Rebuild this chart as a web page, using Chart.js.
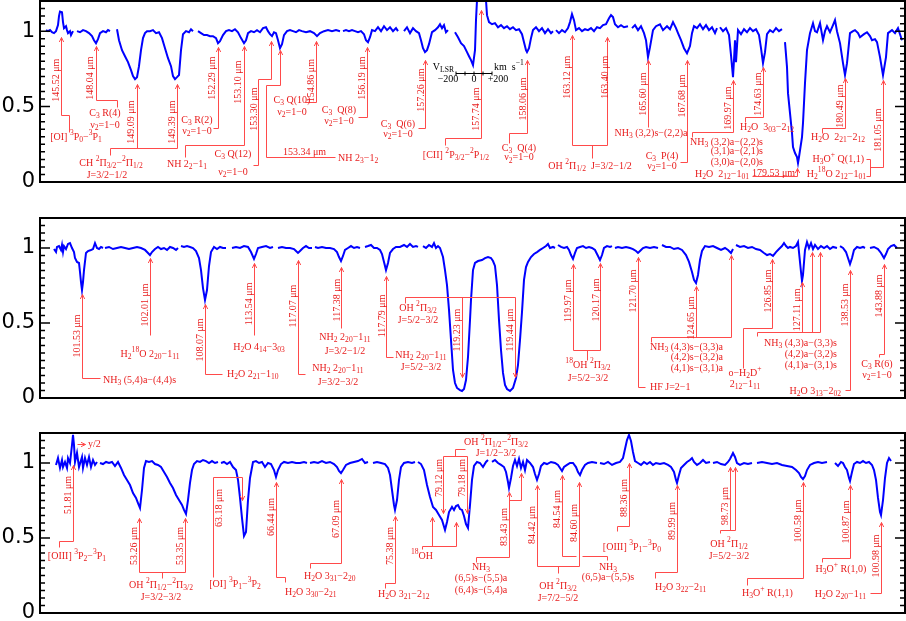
<!DOCTYPE html>
<html>
<head>
<meta charset="utf-8">
<script src="https://cdn.jsdelivr.net/npm/chart.js@4.4.0/dist/chart.umd.min.js"></script>
<style>
  html, body { margin: 0; padding: 0; background: #fff; }
  #wrap { position: relative; width: 906px; height: 621px; }
  #wrap canvas { position: absolute; left: 0; top: 0; }
</style>
</head>
<body>
<div id="wrap">
  <canvas id="p1" width="906" height="621"></canvas>
  <canvas id="p2" width="906" height="621"></canvas>
  <canvas id="p3" width="906" height="621"></canvas>
</div>
<script>
/* ------------------------------------------------------------
   Spectrum plates: three stitched segments, normalised flux
   x = position along the plate, y = continuum-normalised flux
   ------------------------------------------------------------ */

const yTicks = [0, 0.5, 1];

// ---- plate 1 : 145 - 181 um ----
const spec1 = [
  [[46,1.007],[48,1.0],[50,1.007],[52,.993],[54,.987],[56,1.0],[58,1.04],[59,1.10],[60,1.13],[62,1.126],[63,1.06],[64,1.02],[66,1.033],[67,1.007],[68,.987],[70,1.0],[71,.974],[73,1.0]],
  [[77,1.0],[80,.993],[83,1.007],[86,1.0],[89,.987],[92,.967],[94,.94],[96,.92],[98,.947],[100,.987],[103,1.0],[106,.993],[108,1.007],[110,1.0]],
  [[117,1.013],[119,.94],[122,.874],[125,.834],[128,.795],[131,.742],[133,.702],[135,.682],[137,.695],[139,.768],[141,.874],[143,.954],[145,.987],[147,1.0],[150,1.0],[153,1.007],[156,.987],[159,.993],[162,.954],[165,.887],[168,.821],[171,.768],[173,.702],[175,.682],[177,.695],[179,.709],[181,.874],[183,.98],[186,1.0],[189,.993],[191,1.013],[193,1.0]],
  [[198,1.0],[201,.987],[204,.974],[207,.974],[210,.967],[213,.967],[216,.954],[218,.92],[220,.934],[223,.974],[226,1.0],[229,1.007],[232,1.0],[235,1.013],[238,.993],[241,.954],[244,.92],[246,.94],[248,.987],[251,1.0],[254,.993],[257,1.007],[260,.993],[263,1.02],[266,1.026],[268,1.0],[270,.98],[272,.967],[274,.993],[276,.987],[278,.94],[280,.887],[282,.914],[284,.974],[287,1.0],[290,1.007],[293,1.0],[296,.993],[299,1.007],[302,1.0],[306,.993],[310,1.0],[314,.987],[317,.967],[320,.987],[324,1.0],[328,1.007],[332,1.0],[336,1.007],[340,1.0]],
  [[343,1.0],[346,1.007],[349,1.0],[352,1.007],[355,1.0],[358,.993],[361,1.0],[364,.98],[366,.94],[368,.927],[370,.96],[372,1.007],[375,1.0],[378,1.026],[381,1.0],[384,1.033],[387,1.007],[390,1.026],[393,1.0],[396,1.02],[398,1.0]],
  [[404,1.0],[407,1.026],[410,.987],[413,1.02],[416,1.0],[419,.987],[421,.94],[423,.887],[425,.861],[427,.874],[429,.914],[432,.993],[435,1.007],[438,1.026],[440,1.046],[442,1.02],[444,1.04],[446,.993],[448,1.007]],
  [[455,.993],[458,.96],[461,.92],[464,.901],[467,.861],[469,.834],[471,.808],[473,.775],[475,.874],[476,1.073],[477,1.205],[479,1.34],[485,1.34],[486,1.205],[487,1.106],[489,1.06],[492,1.046],[495,1.053],[498,1.026],[501,1.04],[504,1.02],[507,1.033],[510,1.013],[513,1.026],[516,1.007],[519,1.013],[522,.98],[524,.927],[526,.874],[527,.861],[529,.887],[531,.954],[533,1.007],[536,1.026],[539,1.0],[542,1.02],[545,.987],[548,1.013],[551,.987],[553,1.0]],
  [[556,1.007],[559,.987],[562,1.007],[565,.993],[568,1.02],[570,1.06],[572,1.113],[574,1.073],[576,1.007],[579,1.02],[582,1.0],[585,1.013],[588,1.007],[591,1.02],[594,1.0],[597,1.026],[600,1.02],[603,1.04],[606,1.046],[609,1.086],[611,1.106],[613,1.093],[615,1.046],[618,1.026],[621,1.04],[624,1.026],[628,1.033]],
  [[632,1.02],[635,1.04],[638,1.007],[641,1.033],[644,.987],[646,.94],[648,.828],[650,.894],[653,1.007],[656,1.033],[660,1.046],[663,1.007],[667,1.033],[670,1.013],[673,1.06],[676,1.02],[678,.987],[681,.94],[684,.887],[687,.854],[690,.901],[692,.987],[694,1.033],[697,1.02],[700,1.046],[703,1.013],[706,1.04],[709,1.007],[712,1.026],[715,.987],[717,1.02]],
  [[720,1.026],[723,1.0],[726,1.02],[729,.974],[731,.841],[733,.695],[734,.808],[735,.94],[736,.795],[738,1.007],[741,.98],[744,1.013],[747,.993],[750,1.02],[753,1.0],[756,1.013],[759,.974],[761,.887],[763,.788],[765,.861],[767,.98],[770,1.007],[773,.993],[776,1.02],[779,1.0],[782,1.013]],
  [[785,.927],[787,.762],[788,.589],[790,.457],[792,.325],[793,.232],[795,.192],[797,.166],[798,.126],[799,.166],[802,.298],[803,.391],[805,.656],[807,.874],[810,.987],[813,1.053],[815,1.0],[817,.993],[820,1.053],[823,.94],[825,1.0],[827,1.033],[830,.993],[833,1.04],[835,1.073],[837,1.0],[840,.921],[843,.788],[845,.709],[847,.788],[850,.987],[853,1.0],[855,1.007],[858,.987],[860,.96],[864,.98],[867,.993],[870,.967],[872,.940],[875,.947],[877,.927],[880,.828],[883,.709],[886,.828],[888,.987],[892,1.007],[895,.987],[898,1.02],[902,.94]]
];
const waves1 = [145.52, 148.04, 149.09, 149.39, 152.29, 153.10, 153.30, 153.34, 154.86, 156.19, 157.26, 157.74, 158.06, 163.12, 163.40, 165.60, 167.68, 169.97, 174.63, 179.53, 180.49, 181.05];

// ---- plate 2 : 101 - 144 um ----
const spec2 = [
  [[54,.993],[56,.973],[57,1.007],[59,1.013],[61,.987],[62,1.02],[63,.973],[64,1.013],[66,.993],[68,1.027],[70,1.033],[72,1.0],[74,.973],[75,.933],[77,.907],[79,.9],[80,.84],[81,.773],[82,.72],[83,.773],[84,.853],[86,.967],[88,.98],[91,.987],[93,.993],[95,1.033],[97,1.0],[99,.993],[101,1.007],[103,1.0]],
  [[105,1.0],[109,1.007],[113,.993],[117,1.0],[121,1.007],[125,1.0],[129,.993],[133,1.0],[137,1.007],[141,1.0],[145,.987],[148,.967],[150,.953],[152,.973],[155,.993],[158,1.007],[161,.993],[164,1.0],[167,.987],[170,1.007],[173,1.0],[176,.987],[178,1.0]],
  [[181,1.013],[184,1.007],[187,1.013],[190,1.007],[193,1.0],[196,.98],[199,.933],[201,.853],[203,.733],[205,.653],[207,.72],[209,.88],[211,.973],[214,1.007],[217,.993],[220,1.007],[223,1.0],[226,1.0]],
  [[232,1.0],[236,1.007],[240,1.0],[244,1.013],[248,1.007],[251,.973],[254,.927],[256,.96],[258,1.0],[262,1.007],[266,1.013],[270,1.0],[273,1.007]],
  [[278,1.0],[282,1.007],[286,1.0],[290,1.0],[294,.993],[296,.98],[298,.967],[300,.98],[303,1.0],[306,1.013],[309,1.0],[312,1.0]],
  [[315,1.007],[318,1.0],[322,1.007],[326,1.0],[330,1.0],[334,.993],[337,.973],[339,.94],[341,.913],[343,.947],[345,.987],[348,1.0],[351,1.013],[354,1.0],[357,1.007],[360,1.0]],
  [[365,1.007],[368,1.013],[371,1.02],[374,1.0],[377,1.0],[380,.987],[382,.96],[384,.907],[386,.853],[388,.9],[390,.967],[393,.993],[396,1.007],[400,1.007],[404,1.02],[407,1.007],[410,1.027],[413,1.007],[416,1.013],[418,1.007]],
  [[423,1.013],[426,1.0],[429,1.02],[432,1.007],[434,1.033],[436,1.0],[438,1.013],[440,1.0],[443,.94],[445,.853],[447,.753],[449,.587],[451,.387],[453,.187],[455,.1],[457,.067],[460,.053],[462,.047],[464,.06],[466,.12],[468,.273],[470,.52],[471,.653],[473,.853],[475,.9],[478,.913],[482,.92],[485,.933],[488,.94],[491,.933],[493,.913],[495,.88],[497,.753],[499,.52],[501,.32],[503,.167],[505,.087],[507,.06],[510,.047],[513,.067],[516,.133],[518,.22],[520,.387],[522,.573],[524,.787],[526,.873],[528,.907],[531,.94],[534,.96],[537,.973],[540,.987],[543,1.0],[546,1.013],[548,1.027],[550,1.0],[553,1.007],[555,1.0]],
  [[558,1.02],[561,1.007],[564,1.0],[567,1.007],[569,.987],[571,.953],[573,.927],[575,.967],[577,1.0],[580,1.007],[583,1.013],[586,1.0],[589,1.007],[592,1.0],[595,.987],[597,.96],[600,.92],[602,.953],[604,1.0],[607,1.013],[610,1.007],[612,1.013]],
  [[615,1.0],[618,1.007],[622,1.0],[626,1.007],[630,1.0],[633,.993],[636,.98],[638,.967],[640,.98],[643,1.0],[646,1.007],[650,1.0],[654,1.007],[658,1.0]],
  [[662,1.02],[666,1.007],[670,1.007],[674,.993],[678,1.0],[682,.987],[686,.953],[689,.907],[692,.84],[694,.787],[696,.767],[698,.82],[700,.92],[702,.98],[705,1.013],[709,1.007],[713,1.013],[717,1.0],[721,.987],[725,1.0],[728,.987],[731,.967],[733,.993]],
  [[736,1.02],[740,1.007],[744,1.013],[748,1.0],[752,1.007],[756,.993],[760,.987],[764,.967],[767,.953],[770,.96],[773,.947],[776,.973],[779,.993],[782,1.013],[784,1.033],[786,1.013],[788,1.0],[790,1.007],[793,1.0],[796,1.013],[798,1.04],[799,.973],[801,.84],[802,.78],[803,.82],[805,.987],[807,1.04],[809,1.0],[811,1.033],[813,.993],[815,1.02],[818,.993],[821,1.013],[824,1.0],[827,1.013],[830,.993],[833,1.007],[837,1.0]],
  [[840,1.013],[843,1.0],[846,.973],[848,.933],[850,.893],[852,.933],[854,.987],[857,1.007],[860,1.0],[863,1.007],[865,1.0]],
  [[870,1.0],[874,1.007],[878,.993],[881,.967],[884,.933],[886,.96],[888,.993],[891,1.013],[894,1.02],[897,1.0]]
];
const waves2 = [101.53, 102.01, 108.07, 113.54, 117.07, 117.38, 117.79, 119.23, 119.44, 119.97, 120.17, 121.70, 124.65, 126.85, 127.11, 138.53, 143.88];

// ---- plate 3 : 51 - 101 um ----
const spec3 = [
  [[56,.987],[58,1.033],[60,.967],[62,1.02],[63,.973],[65,1.007],[67,.967],[68,1.033],[70,1.0],[72,1.12],[73,1.187],[74,1.12],[75,1.007],[77,1.067],[79,.973],[82,1.04],[83,.967],[85,1.033],[87,.987],[89,1.04],[91,.973],[93,1.02],[95,.987],[97,1.007]],
  [[100,1.0],[103,.993],[106,1.007],[109,1.0],[112,1.007],[115,.98],[118,1.007],[121,.967],[124,.92],[127,.887],[130,.853],[133,.8],[136,.767],[138,.733],[140,.7],[142,.82],[144,.967],[146,1.013],[149,1.007],[152,1.013],[155,.993],[158,.987],[161,.973],[164,.94],[167,.907],[170,.867],[173,.833],[176,.787],[179,.753],[182,.72],[184,.687],[186,.66],[188,.753],[190,.867],[192,.953],[194,.993],[197,1.013],[200,1.007],[203,1.02],[206,1.013],[209,1.0],[212,1.013],[215,1.0],[218,1.007]],
  [[221,1.0],[224,1.007],[227,.993],[230,1.007],[233,.973],[236,.953],[238,.887],[240,.767],[242,.633],[244,.513],[246,.54],[248,.753],[250,.9],[253,1.007],[256,1.013],[259,1.0],[262,1.007],[265,.973],[268,1.0],[271,.993],[274,.953],[276,.907],[278,.953],[281,.993],[284,1.007],[288,1.0],[292,1.007],[296,1.0],[300,1.0],[304,1.007],[307,1.0]],
  [[310,1.0],[314,1.007],[318,1.0],[322,1.013],[326,1.0],[330,1.007],[334,.993],[337,.973],[339,.947],[341,.933],[343,.953],[346,.987],[350,1.0],[354,1.007],[358,1.013],[362,1.027],[365,1.0],[368,1.007]],
  [[373,1.0],[377,1.007],[381,1.0],[385,.993],[388,.967],[390,.92],[392,.82],[394,.72],[395,.687],[397,.753],[399,.887],[401,.973],[404,1.0],[408,1.007],[412,1.0],[415,1.007]],
  [[418,1.007],[421,.993],[424,.953],[427,.853],[430,.773],[433,.707],[436,.687],[439,.653],[442,.62],[445,.553],[447,.607],[449,.673],[452,.707],[454,.687],[456,.713],[458,.72],[460,.693],[462,.687],[464,.647],[466,.593],[468,.567],[470,.72],[472,.887],[474,.98],[477,1.007],[480,1.0],[483,.973],[486,1.007],[488,1.02]],
  [[492,1.007],[495,1.02],[498,1.0],[501,.987],[504,.973],[506,.94],[508,.873],[509,.833],[511,.9],[513,.98],[515,1.02],[517,.98],[519,1.027],[521,.967],[523,1.007],[525,.953],[527,1.02],[530,1.0],[533,.973],[535,.927],[537,.887],[539,.927],[541,.98],[544,1.0],[547,.993],[551,1.007],[555,1.0],[558,.987],[560,.967],[562,.947],[564,.973],[567,.987],[570,1.0],[573,1.0],[576,.973],[578,.94],[580,.92],[582,.953],[585,.987],[588,1.0],[592,1.007],[597,1.0]],
  [[600,1.0],[604,.993],[608,1.007],[612,.987],[616,1.0],[620,1.007],[623,1.033],[625,1.093],[627,1.153],[629,1.187],[631,1.147],[633,1.073],[635,1.013],[638,1.0],[641,.987],[644,1.007],[647,.993],[650,1.007],[653,.987],[656,1.0],[660,.993],[664,1.0],[668,.987],[671,.973],[674,.94],[676,.887],[677,.867],[679,.92],[681,.967],[684,.987],[687,1.007],[690,1.02],[692,1.033],[694,1.007],[697,.987],[700,1.0],[703,1.02],[706,1.0],[710,1.007]],
  [[713,1.0],[717,1.007],[721,.993],[725,.987],[728,1.007],[730,1.027],[732,1.053],[733,1.067],[735,1.04],[737,1.0],[740,.987],[744,1.0],[748,.993],[752,1.0]],
  [[757,1.0],[762,1.007],[767,1.0],[772,.993],[777,1.0],[782,.987],[787,.98],[792,.973],[796,.953],[799,.933],[801,.907],[803,.893],[805,.913],[807,.953],[810,.987],[814,1.0],[818,1.007],[822,1.0],[827,1.007]],
  [[835,1.0],[838,.98],[841,1.007],[843,1.0],[845,.973],[847,.953],[849,.9],[850,.88],[852,.94],[854,.993],[857,1.007],[860,1.0],[863,1.013],[866,1.0],[869,1.007],[872,.987],[874,.953],[876,.887],[878,.767],[880,.673],[881,.653],[883,.753],[885,.9],[887,1.0],[889,1.033],[891,1.013]]
];
const waves3 = [51.81, 53.26, 53.35, 63.18, 66.44, 67.09, 75.38, 79.12, 79.18, 83.43, 84.42, 84.54, 84.60, 88.36, 89.99, 98.73, 100.58, 100.87, 100.98];

// velocity scale bar in plate 1 (km/s)
const vlsrTicks = [-200, -100, 0, 100, 200];
const vlsrLabels = ['\u2212200', '0', '+200'];

/* ------------------------------------------------------------
   Callout layout (plate units: x position, flux level)
   ------------------------------------------------------------ */

// wavelength tag placement: [x, y, vertical?]
const tagAt1 = [[56,.675,1],[90,.689,1],[131,.397,1],[172,.397,1],[212,.689,1],[238,.662,1],[254,.483,1],[283,.199,0],[311,.672,1],[362,.689,1],[421,.609,1],[476,.483,1],[523,.55,1],[567,.695,1],[605,.695,1],[643,.583,1],[682,.57,1],[728,.49,1],[758,.583,1],[752,.06,0],[840,.503,1],[878,.344,1]];
const tagAt2 = [[77,.413,1],[145,.62,1],[200,.387,1],[249,.627,1],[293,.613,1],[337,.653,1],[382,.547,1],[457,.453,1],[510,.453,1],[568,.647,1],[596,.653,1],[633,.713,1],[691,.533,1],[768,.713,1],[797,.587,1],[845,.62,1],[879,.68,1]];
const tagAt3 = [[68,.787,1],[134,.447,1],[180,.447,1],[219,.7,1],[271,.64,1],[336,.627,1],[390,.447,1],[439,.9,1],[462,.9,1],[504,.573,1],[532,.587,1],[557,.693,1],[574,.6,1],[624,.767,1],[672,.613,1],[725,.713,1],[798,.613,1],[846,.607,1],[876,.38,1]];

// leader lines, arrow head on the first point
const arrows1 = [
  [[61,.96],[61,.444],[69,.444],[69,.331]],
  [[96,.901],[96,.543],[117,.543],[117,.497]],
  [[137,.649],[137,.225]],
  [[177,.649],[177,.225]],
  [[218,.894],[218,.358],[213,.358]],
  [[244,.901],[244,.245],[185,.245],[185,.166]],
  [[271,.934],[271,.682],[258,.682],[258,.113],[253,.113]],
  [[280,.874],[280,.642],[266,.642],[266,.166],[335,.166]],
  [[316,.934],[316,.53],[305,.53]],
  [[367,.894],[367,.43],[358,.43]],
  [[425,.808],[425,.358],[418,.358]],
  [[481,1.139],[481,.291],[445,.291],[445,.245]],
  [[527,.808],[527,.325],[509,.325],[509,.258]],
  [[572,.974],[572,.245]],
  [[607,.96],[607,.245]],
  [[648,.808],[648,.364]],
  [[687,.808],[687,.132],[680,.132]],
  [[733,.675],[733,.331],[692,.331],[692,.298]],
  [[763,.762],[763,.43],[745,.43],[745,.397]],
  [[797,.093],[797,.04],[752,.04]],
  [[845,.689],[845,.358],[822,.358],[822,.325]],
  [[883,.675],[883,.099],[870,.099]]
];
const links1 = [
  [[110,.18],[110,.225],[177,.225]],
  [[572,.245],[607,.245]],
  [[592,.245],[592,.159]],
  [[866,.152],[870,.152],[870,.04],[866,.04]]
];
const notes1 = [
  [76,.298,'c','[OI] ^{3}P_{0}\u2212^{3}P_{1}'],
  [105,.457,'c','C_{3} R(4)'], [105,.377,'c','\u03bd_{2}=1\u22120'],
  [111,.126,'c','CH ^{2}\u03a0_{3/2}\u2212^{2}\u03a0_{1/2}'], [107,.046,'c','J=3/2\u22121/2'],
  [197,.411,'c','C_{3} R(2)'], [197,.338,'c','\u03bd_{2}=1\u22120'],
  [187,.119,'c','NH 2_{2}\u22121_{1}'],
  [233,.185,'c','C_{3} Q(12)'], [233,.066,'c','\u03bd_{2}=1\u22120'],
  [338,.159,'l','NH 2_{3}\u22121_{2}'],
  [292,.543,'c','C_{3} Q(10)'], [292,.464,'c','\u03bd_{2}=1\u22120'],
  [339,.477,'c','C_{3}  Q(8)'], [339,.404,'c','\u03bd_{2}=1\u22120'],
  [398,.384,'c','C_{3}  Q(6)'], [398,.318,'c','\u03bd_{2}=1\u22120'],
  [456,.179,'c','[CII] ^{2}P_{3/2}\u2212^{2}P_{1/2}'],
  [519,.225,'c','C_{3}  Q(4)'], [519,.162,'c','\u03bd_{2}=1\u22120'],
  [590,.106,'c','OH ^{2}\u03a0_{1/2}  J=3/2\u22121/2'],
  [651,.325,'c','NH_{3} (3,2)s\u2212(2,2)a'],
  [662,.172,'c','C_{3}  P(4)'], [662,.106,'c','\u03bd_{2}=1\u22120'],
  [763,.265,'r','NH_{3} (3,2)a\u2212(2,2)s'], [763,.205,'r','(3,1)a\u2212(2,1)s'], [763,.132,'r','(3,0)a\u2212(2,0)s'],
  [740,.364,'l','H_{2}O  3_{03}\u22122_{12}'],
  [722,.053,'c','H_{2}O  2_{12}\u22121_{01}'],
  [838,.298,'c','H_{2}O  2_{21}\u22122_{12}'],
  [864,.152,'r','H_{3}O^{+} Q(1,1)'],
  [866,.053,'r','H_{2}^{18}O 2_{12}\u22121_{01}']
];

const arrows2 = [
  [[82,.693],[82,.133],[100,.133]],
  [[150,.933],[150,.42]],
  [[205,.627],[205,.16],[222,.16]],
  [[254,.9],[254,.42]],
  [[298,.92],[298,.16],[305,.16]],
  [[341,.873],[341,.467]],
  [[386,.813],[386,.273],[393,.273]],
  [[462,.14],[462,.673]],
  [[515,.14],[515,.673]],
  [[573,.893],[573,.32]],
  [[600,.9],[600,.32]],
  [[638,.94],[638,.073],[645,.073]],
  [[696,.747],[696,.407]],
  [[731,.953],[731,.407]],
  [[772,.927],[772,.467],[743,.467],[743,.2]],
  [[802,.773],[802,.44]],
  [[812,.973],[812,.44]],
  [[820,.973],[820,.44]],
  [[850,.853],[850,.053],[845,.053]],
  [[884,.893],[884,.293],[879,.293],[879,.273]]
];
const links2 = [
  [[405,.633],[405,.673],[515,.673]],
  [[573,.32],[600,.32]],
  [[587,.32],[587,.253]],
  [[651,.373],[651,.407],[731,.407]],
  [[757,.413],[757,.44],[820,.44]]
];
const notes2 = [
  [103,.12,'l','NH_{3} (5,4)a\u2212(4,4)s'],
  [150,.293,'c','H_{2}^{18}O 2_{20}\u22121_{11}'],
  [227,.16,'l','H_{2}O 2_{21}\u22121_{10}'],
  [259,.34,'c','H_{2}O 4_{14}\u22123_{03}'],
  [338,.2,'c','NH_{2} 2_{20}\u22121_{11}'], [338,.107,'c','J=3/2\u22123/2'],
  [345,.407,'c','NH_{2} 2_{20}\u22121_{11}'], [345,.313,'c','J=3/2\u22121/2'],
  [421,.287,'c','NH_{2} 2_{20}\u22121_{11}'], [421,.207,'c','J=5/2\u22123/2'],
  [418,.6,'c','OH ^{2}\u03a0_{3/2}'], [418,.52,'c','J=5/2\u22123/2'],
  [588,.22,'c','^{18}OH ^{2}\u03a0_{3/2}'], [588,.133,'c','J=5/2\u22123/2'],
  [650,.073,'l','HF J=2\u22121'],
  [723,.34,'r','NH_{3} (4,3)s\u2212(3,3)a'], [723,.273,'r','(4,2)s\u2212(3,2)a'], [723,.2,'r','(4,1)s\u2212(3,1)a'],
  [745,.167,'c','o\u2212H_{2}D^{+}'], [745,.093,'c','2_{12}\u22121_{11}'],
  [837,.367,'r','NH_{3} (4,3)a\u2212(3,3)s'], [837,.293,'r','(4,2)a\u2212(3,2)s'], [837,.22,'r','(4,1)a\u2212(3,1)s'],
  [841,.047,'r','H_{2}O 3_{13}\u22122_{02}'],
  [877,.227,'c','C_{3} R(6)'], [877,.153,'c','\u03bd_{2}=1\u22120']
];

const arrows3 = [
  [[73,.987],[73,.48],[59,.48],[59,.44]],
  [[85,1.127],[77,1.127]],
  [[139,.633],[139,.273]],
  [[185,.633],[185,.273]],
  [[242,.753],[242,.907],[213,.907],[213,.24]],
  [[276,.873],[276,.24],[285,.24],[285,.207]],
  [[341,.893],[341,.333],[310,.333],[310,.3]],
  [[395,.647],[395,.2],[385,.2],[385,.167]],
  [[432,.64],[432,.447]],
  [[456,.607],[456,.447]],
  [[443,.667],[443,1.047]],
  [[467,.667],[467,1.047]],
  [[509,.807],[509,.373],[476,.373],[476,.34]],
  [[521,.933],[521,.753],[509,.753]],
  [[537,.853],[537,.313]],
  [[562,.92],[562,.38],[576,.38]],
  [[579,.873],[579,.313]],
  [[629,1.0],[629,.58],[617,.58],[617,.547]],
  [[677,.853],[677,.273],[655,.273],[655,.233]],
  [[730,.973],[730,.553]],
  [[735,.973],[735,.553]],
  [[803,.873],[803,.233],[747,.233],[747,.187]],
  [[850,.853],[850,.367],[822,.367],[822,.34]],
  [[881,.607],[881,.133],[870,.133]]
];
const links3 = [
  [[139,.273],[185,.273]],
  [[162,.273],[162,.233]],
  [[422,.427],[422,.447],[456,.447]],
  [[443,1.047],[467,1.047]],
  [[455,1.047],[455,1.093],[465,1.093]],
  [[537,.313],[579,.313]],
  [[558,.313],[558,.267]],
  [[582,.38],[607,.38],[607,.353]],
  [[720,.533],[720,.553],[735,.553]]
];
const notes3 = [
  [77,.38,'c','[OIII] ^{3}P_{2}\u2212^{3}P_{1}'],
  [88,1.127,'l','y/2'],
  [161,.187,'c','OH ^{2}\u03a0_{1/2}\u2212^{2}\u03a0_{3/2}'], [161,.107,'c','J=3/2\u22123/2'],
  [235,.193,'c','[OI] ^{3}P_{1}\u2212^{3}P_{2}'],
  [285,.14,'l','H_{2}O 3_{30}\u22122_{21}'],
  [304,.247,'l','H_{2}O 3_{31}\u22122_{20}'],
  [378,.127,'l','H_{2}O 3_{21}\u22122_{12}'],
  [422,.38,'c','^{18}OH'],
  [496,1.14,'c','OH ^{2}\u03a0_{1/2}\u2212^{2}\u03a0_{3/2}'], [496,1.067,'c','J=1/2\u22123/2'],
  [481,.307,'c','NH_{3}'], [481,.233,'c','(6,5)s\u2212(5,5)a'], [481,.153,'c','(6,4)s\u2212(5,4)a'],
  [558,.18,'c','OH ^{2}\u03a0_{3/2}'], [558,.1,'c','J=7/2\u22125/2'],
  [608,.307,'c','NH_{3}'], [608,.24,'c','(6,5)a\u2212(5,5)s'],
  [632,.44,'c','[OIII] ^{3}P_{1}\u2212^{3}P_{0}'],
  [655,.173,'l','H_{2}O 3_{22}\u22122_{11}'],
  [729,.46,'c','OH ^{2}\u03a0_{1/2}'], [729,.38,'c','J=5/2\u22123/2'],
  [742,.133,'l','H_{3}O^{+} R(1,1)'],
  [841,.293,'c','H_{3}O^{+} R(1,0)'],
  [866,.127,'r','H_{2}O 2_{20}\u22121_{11}']
];

/* ------------------------------------------------------------ */

const SERIF = '"Liberation Serif", "DejaVu Serif", serif';
const LINE_RED = '#ff4a4a';
const TEXT_RED = '#e81c1c';

// split "H_{2}O^{+}" style markup into [text, level] parts
function richParts(s) {
  const out = [];
  let buf = '', i = 0;
  while (i < s.length) {
    const c = s[i];
    if (c === '_' || c === '^') {
      if (buf) { out.push([buf, 0]); buf = ''; }
      let t;
      if (s[i + 1] === '{') {
        const j = s.indexOf('}', i + 2);
        t = s.slice(i + 2, j);
        i = j + 1;
      } else {
        t = s[i + 1];
        i += 2;
      }
      out.push([t, c === '_' ? 1 : 2]);
    } else {
      buf += c;
      i++;
    }
  }
  if (buf) out.push([buf, 0]);
  return out;
}

function drawRich(ctx, s, x, y, align, size) {
  const parts = richParts(s);
  const sizes = [size, size * 0.76, size * 0.76];
  let w = 0;
  parts.forEach(p => {
    ctx.font = sizes[p[1]] + 'px ' + SERIF;
    p.w = ctx.measureText(p[0]).width;
    w += p.w;
  });
  let cx = align === 'c' ? x - w / 2 : align === 'r' ? x - w : x;
  ctx.textAlign = 'left';
  ctx.textBaseline = 'middle';
  parts.forEach(p => {
    ctx.font = sizes[p[1]] + 'px ' + SERIF;
    const dy = p[1] === 1 ? size * 0.32 : p[1] === 2 ? -size * 0.38 : 0;
    ctx.fillText(p[0], cx, y + dy);
    cx += p.w;
  });
}

function strokePath(ctx, pts) {
  ctx.beginPath();
  pts.forEach((p, i) => i === 0 ? ctx.moveTo(p[0], p[1]) : ctx.lineTo(p[0], p[1]));
  ctx.stroke();
}

function arrowHead(ctx, tip, from) {
  const a = Math.atan2(tip[1] - from[1], tip[0] - from[0]);
  const L = 5, s = 0.45;
  ctx.beginPath();
  ctx.moveTo(tip[0] - L * Math.cos(a - s), tip[1] - L * Math.sin(a - s));
  ctx.lineTo(tip[0], tip[1]);
  ctx.lineTo(tip[0] - L * Math.cos(a + s), tip[1] - L * Math.sin(a + s));
  ctx.stroke();
}

const calloutPlugin = {
  id: 'callouts',
  afterDraw(chart, args, o) {
    const ctx = chart.ctx;
    const a = chart.chartArea;
    const xs = chart.scales.x, ys = chart.scales.y;
    const px = v => Math.round(xs.getPixelForValue(v)) + 0.5;
    const py = v => Math.round(ys.getPixelForValue(v)) + 0.5;
    const toPx = pts => pts.map(p => [px(p[0]), py(p[1])]);

    ctx.save();

    // frame
    ctx.strokeStyle = '#000';
    ctx.lineWidth = 2;
    ctx.strokeRect(a.left, a.top, a.right - a.left, a.bottom - a.top);

    // inward minor / major ticks, both sides
    ctx.lineWidth = 1.5;
    for (let k = 1; k < 24; k++) {
      const y = ys.getPixelForValue(k * 0.05);
      const len = k % 10 === 0 ? 10 : 5;
      ctx.beginPath();
      ctx.moveTo(a.left, y); ctx.lineTo(a.left + len, y);
      ctx.moveTo(a.right, y); ctx.lineTo(a.right - len, y);
      ctx.stroke();
    }

    // leader lines
    ctx.strokeStyle = LINE_RED;
    ctx.lineWidth = 1;
    o.arrows.forEach(path => {
      const pts = toPx(path);
      strokePath(ctx, pts);
      arrowHead(ctx, pts[0], pts[1]);
    });
    o.links.forEach(path => strokePath(ctx, toPx(path)));

    // wavelength tags
    ctx.fillStyle = TEXT_RED;
    o.waves.forEach((w, i) => {
      const [x, v, vert] = o.tagAt[i];
      const t = w.toFixed(2) + ' \u03bcm';
      if (vert) {
        ctx.save();
        ctx.translate(xs.getPixelForValue(x), ys.getPixelForValue(v));
        ctx.rotate(-Math.PI / 2);
        drawRich(ctx, t, 0, 0, 'c', 10);
        ctx.restore();
      } else {
        drawRich(ctx, t, xs.getPixelForValue(x), ys.getPixelForValue(v), 'l', 10);
      }
    });

    // species labels
    o.notes.forEach(n => drawRich(ctx, n[3], xs.getPixelForValue(n[0]), ys.getPixelForValue(n[1]), n[2], 10));

    if (o.extra) o.extra(ctx, xs, ys);
    ctx.restore();
  }
};

// velocity scale inset of plate 1
function drawVlsr(ctx, xs, ys) {
  const x0 = xs.getPixelForValue(456), x1 = xs.getPixelForValue(492);
  const y = Math.round(ys.getPixelForValue(0.722)) + 0.5;
  const at = t => x0 + (t - vlsrTicks[0]) / (vlsrTicks[vlsrTicks.length - 1] - vlsrTicks[0]) * (x1 - x0);
  ctx.strokeStyle = '#000';
  ctx.fillStyle = '#000';
  ctx.lineWidth = 1;
  ctx.beginPath();
  ctx.moveTo(x0, y); ctx.lineTo(x1, y);
  vlsrTicks.forEach(t => { ctx.moveTo(at(t), y - 2); ctx.lineTo(at(t), y + 2); });
  ctx.stroke();
  const ly = ys.getPixelForValue(0.68);
  drawRich(ctx, vlsrLabels[0], at(-200) - 8, ly, 'c', 10);
  drawRich(ctx, vlsrLabels[1], at(0), ly, 'c', 10);
  drawRich(ctx, vlsrLabels[2], at(200) + 6, ly, 'c', 10);
  const ty = ys.getPixelForValue(0.762);
  drawRich(ctx, 'V_{LSR}', x0 - 2, ty, 'r', 10);
  drawRich(ctx, 'km  s^{\u22121}', x1 + 2, ty, 'l', 10);
}

function makePanel(id, spec, top, bottom, callouts) {
  const data = [];
  spec.forEach((seg, k) => {
    if (k > 0) data.push({ x: seg[0][0], y: null });
    seg.forEach(p => data.push({ x: p[0], y: p[1] }));
  });

  return new Chart(document.getElementById(id), {
    type: 'line',
    data: {
      datasets: [{
        data: data,
        borderColor: '#0000ff',
        borderWidth: 2,
        pointRadius: 0,
        fill: false,
        tension: 0,
        spanGaps: false
      }]
    },
    options: {
      responsive: false,
      animation: false,
      events: [],
      layout: { padding: { top: top, bottom: bottom, left: 0, right: 1 } },
      plugins: {
        legend: { display: false },
        tooltip: { enabled: false },
        callouts: callouts
      },
      scales: {
        x: { type: 'linear', min: 40, max: 905, display: false },
        y: {
          min: 0,
          max: 1.2,
          afterBuildTicks: (s) => { s.ticks = yTicks.map(v => ({ value: v })); },
          afterFit: (s) => { s.width = 40; s.paddingTop = 0; s.paddingBottom = 0; },
          grid: { display: false, drawTicks: false },
          border: { display: false },
          ticks: {
            padding: 5,
            color: '#000',
            font: { family: 'DejaVu Sans', size: 21 },
            callback: (v) => String(v)
          }
        }
      }
    },
    plugins: [calloutPlugin]
  });
}

makePanel('p1', spec1, 1, 439, { waves: waves1, tagAt: tagAt1, arrows: arrows1, links: links1, notes: notes1, extra: drawVlsr });
makePanel('p2', spec2, 218, 223, { waves: waves2, tagAt: tagAt2, arrows: arrows2, links: links2, notes: notes2 });
makePanel('p3', spec3, 433, 8, { waves: waves3, tagAt: tagAt3, arrows: arrows3, links: links3, notes: notes3 });
</script>
</body>
</html>
